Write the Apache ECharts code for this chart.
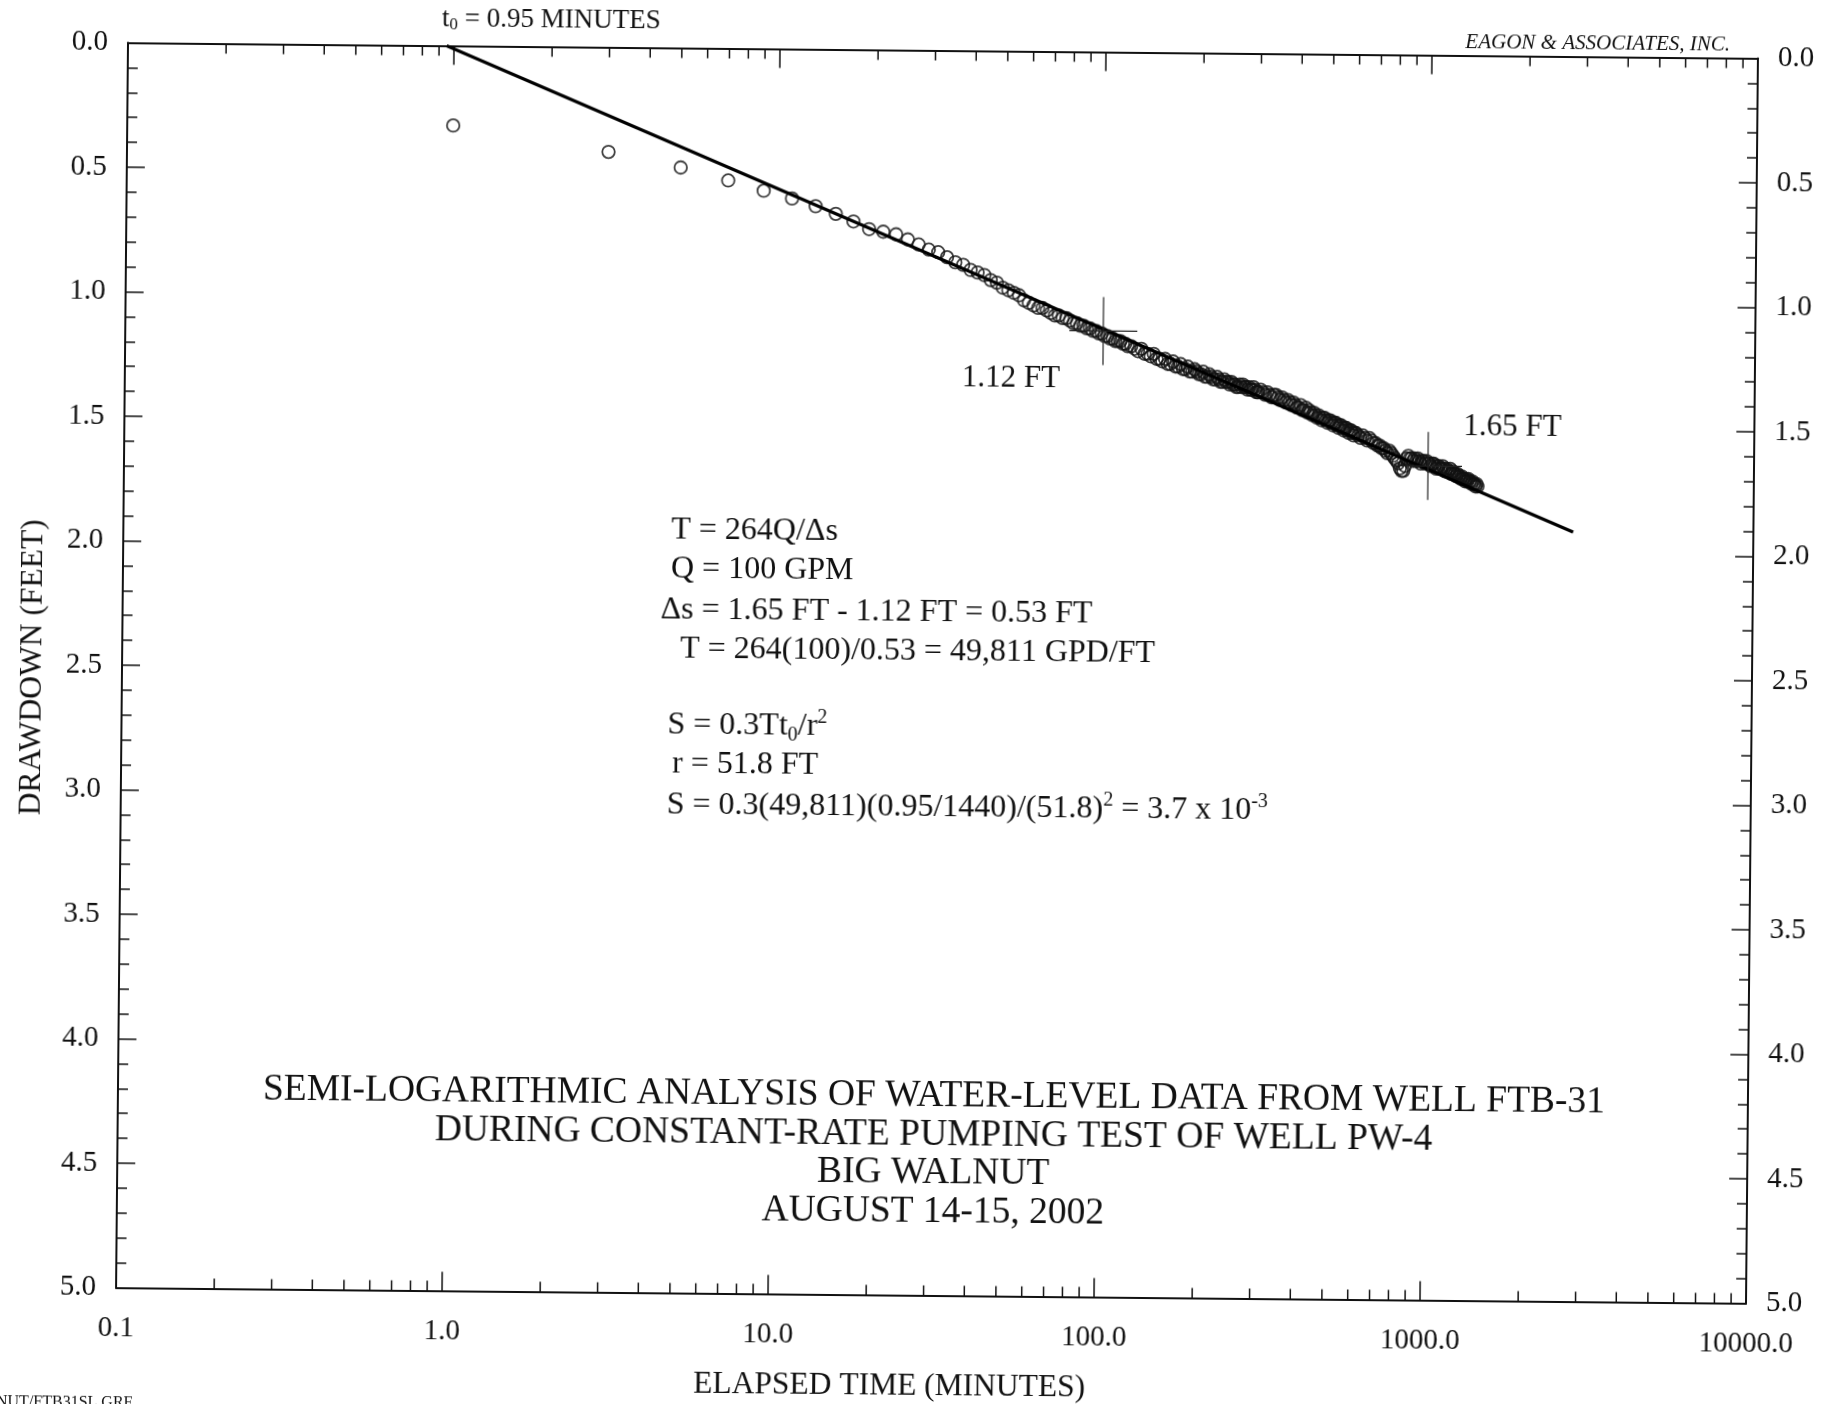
<!DOCTYPE html>
<html>
<head>
<meta charset="utf-8">
<title>Semi-logarithmic analysis, well FTB-31</title>
<script src="https://cdn.jsdelivr.net/npm/echarts@6/dist/echarts.min.js"></script>
<style>
  html, body { margin: 0; padding: 0; background: #fff; overflow: hidden; width: 1835px; height: 1404px; }
  /* the printed sheet sits a little askew on the page */
  #sheet { position: absolute; left: 0; top: 0; width: 1835px; height: 1420px;
           transform: rotate(0.55deg); transform-origin: 936.75px 673px; }
</style>
</head>
<body>
<div id="sheet"></div>
<script>
// Elapsed time since pumping began (minutes) and drawdown (feet) at well FTB-31
const timeA = [1,3,5,7,9,11,13,15,17,19,21,23,25,27,29,31,33,35,37,39,41,43,45,47,49,51,53,55,57,59];
const drawdownA = [0.32,0.42,0.48,0.53,0.57,0.60,0.63,0.66,0.69,0.72,0.73,0.74,0.76,0.78,0.80,0.81,0.83,0.85,0.86,0.88,0.89,0.90,0.92,0.93,0.95,0.96,0.97,0.98,1.00,1.01];

const timeB = [61,63,65,67,69,71,73,75,77,79,81,83,85,87,89,91,93,95,97,99,101,103,105,107,109,111,113,115,117,119];
const drawdownB = [1.02,1.03,1.03,1.04,1.05,1.06,1.06,1.07,1.07,1.08,1.09,1.09,1.10,1.10,1.11,1.11,1.12,1.12,1.13,1.13,1.14,1.14,1.15,1.15,1.16,1.16,1.16,1.17,1.17,1.18];

const timeC = [122,125,128,131,134,137,140,143,146,149,152,155,158,161,164,167,170,173,176,179,
               182,185,188,191,194,197,200,203,206,209,212,215,218,221,224,227,230,233,236,239,
               242,245,248,251,254,257,260,263,266,269,272,275,278,281,284,287,290,293,296,299];
const drawdownC = [1.18,1.19,1.20,1.19,1.21,1.21,1.22,1.21,1.23,1.23,1.24,1.23,1.25,1.25,1.24,1.26,1.26,1.25,1.27,1.27,
                   1.26,1.28,1.28,1.27,1.28,1.29,1.29,1.28,1.30,1.30,1.29,1.30,1.31,1.31,1.30,1.31,1.32,1.32,1.31,1.32,
                   1.32,1.33,1.32,1.33,1.33,1.34,1.34,1.33,1.34,1.33,1.34,1.34,1.35,1.34,1.35,1.35,1.34,1.35,1.36,1.36];

const timeD = [300,305,310,315,320,325,330,335,340,345,350,355,360,365,370,375,380,385,390,395,
               400,405,410,415,420,425,430,435,440,445,450,455,460,465,470,475,480,485,490,495,
               500,505,510,515,520,525,530,535,540,545,550,555,560,565,570,575,580,585,590,595,600];
const drawdownD = [1.36,1.35,1.36,1.37,1.36,1.37,1.38,1.37,1.37,1.38,1.39,1.38,1.39,1.40,1.39,1.40,1.41,1.40,1.41,1.42,
                   1.42,1.41,1.43,1.43,1.42,1.44,1.43,1.44,1.45,1.44,1.45,1.46,1.45,1.46,1.47,1.46,1.46,1.47,1.48,1.47,
                   1.47,1.48,1.49,1.48,1.48,1.49,1.50,1.49,1.49,1.50,1.51,1.50,1.50,1.51,1.52,1.51,1.51,1.52,1.53,1.52,1.52];

const timeE = [610,620,630,640,650,660,670,680,690,700,710,720,730,740,750,760,770,780,790,800,
               810,820,830,840,850,860,870,880,890,900,910,920,930,940,950,960,970,980,990,1000,
               1010,1020,1030,1040,1050,1060,1070,1080,1090,1100,1110,1120,1130,1140,1150,1160,1170,1180,1190,1200,
               1210,1220,1230,1240,1250,1260,1270,1280,1290,1300,1310,1320,1330,1340,1350,1360,1370,1380,1390,1400,
               1410,1420];
const drawdownE = [1.53,1.54,1.53,1.54,1.55,1.54,1.55,1.56,1.56,1.57,1.57,1.58,1.58,1.59,1.60,1.59,1.60,1.61,1.62,1.63,
                   1.64,1.66,1.67,1.67,1.65,1.62,1.61,1.62,1.62,1.63,1.62,1.63,1.62,1.63,1.64,1.63,1.63,1.64,1.63,1.64,
                   1.64,1.65,1.64,1.64,1.65,1.66,1.65,1.65,1.66,1.66,1.65,1.66,1.67,1.66,1.67,1.67,1.66,1.68,1.67,1.68,
                   1.68,1.69,1.68,1.69,1.69,1.70,1.69,1.70,1.70,1.71,1.70,1.71,1.70,1.71,1.71,1.72,1.71,1.72,1.72,1.73,
                   1.72,1.73];

// Straight-line fit: starts at t0 (zero drawdown) and runs to its far end
const fitLine = [[0.95, 0.00], [2800, 1.91]];

// Drawdown picks one log cycle apart
const picks = [[100, 1.12], [1000, 1.65]];

// Axis tick values
const xTickLabels = ['0.1', '1.0', '10.0', '100.0', '1000.0', '10000.0'];
const xMinorTicks = [0.2,0.3,0.4,0.5,0.6,0.7,0.8,0.9, 2,3,4,5,6,7,8,9, 20,30,40,50,60,70,80,90,
                     200,300,400,500,600,700,800,900, 2000,3000,4000,5000,6000,7000,8000,9000];
const yTicks = [0.0, 0.5, 1.0, 1.5, 2.0, 2.5, 3.0, 3.5, 4.0, 4.5, 5.0];

const observed = [];
[[timeA, drawdownA], [timeB, drawdownB], [timeC, drawdownC], [timeD, drawdownD], [timeE, drawdownE]]
  .forEach(([t, s]) => t.forEach((v, i) => observed.push([v, s[i]])));

const SERIF = "'Liberation Serif', 'Times New Roman', Times, serif";
const INK = '#111';

const chart = echarts.init(document.getElementById('sheet'), null, { renderer: 'canvas', width: 1835, height: 1420 });

function xLabel(v) {
  const lg = Math.round(Math.log10(v)) + 1;
  return xTickLabels[lg] !== undefined ? xTickLabels[lg] : '';
}
function yLabel(v) {
  const k = Math.round(v * 2);
  return yTicks[k] !== undefined ? yTicks[k].toFixed(1) : '';
}

const xAxisCommon = {
  type: 'log', logBase: 10, min: 0.1, max: 10000,
  axisLine: { onZero: false, lineStyle: { color: INK, width: 2 } },
  axisTick: { inside: true, length: 19, lineStyle: { color: INK, width: 1.5 } },
  splitLine: { show: false },
  minorTick: { show: false }
};
const yAxisCommon = {
  type: 'value', inverse: true, min: 0, max: 5, interval: 0.5,
  axisLine: { onZero: false, lineStyle: { color: INK, width: 2 } },
  axisTick: { inside: true, length: 18, lineStyle: { color: INK, width: 1.5 } },
  minorTick: { show: true, splitNumber: 5, length: 10, lineStyle: { color: INK, width: 1.5 } },
  splitLine: { show: false },
  minorSplitLine: { show: false },
  axisLabel: { margin: 20, formatter: yLabel, fontFamily: SERIF, fontSize: 29, color: INK }
};

const calloutOffsets = [[-92, 48], [84, -39]];

chart.setOption({
  animation: false,
  backgroundColor: '#fff',
  grid: { left: 122, top: 50.5, width: 1630, height: 1245, containLabel: false },
  xAxis: [
    Object.assign({}, xAxisCommon, {
      position: 'bottom',
      axisLabel: { margin: 26, formatter: xLabel, fontFamily: SERIF, fontSize: 29, color: INK }
    }),
    Object.assign({}, xAxisCommon, { position: 'top', axisLabel: { show: false } })
  ],
  yAxis: [
    Object.assign({}, yAxisCommon, { position: 'left' }),
    Object.assign({}, yAxisCommon, { position: 'right' })
  ],
  series: [
    {
      // minor log ticks (2..9 in each cycle) on the bottom and top frame
      type: 'custom', xAxisIndex: 0, yAxisIndex: 0, silent: true, clip: false, z: 3,
      data: xMinorTicks.map(v => [v, 0]),
      renderItem(params, api) {
        const x = api.coord([api.value(0), 0])[0];
        const cs = params.coordSys;
        const st = { stroke: INK, lineWidth: 1.5 };
        return { type: 'group', children: [
          { type: 'line', shape: { x1: x, y1: cs.y + cs.height, x2: x, y2: cs.y + cs.height - 10 }, style: st },
          { type: 'line', shape: { x1: x, y1: cs.y, x2: x, y2: cs.y + 10 }, style: st }
        ] };
      }
    },
    {
      name: 'Observed drawdown',
      type: 'scatter', xAxisIndex: 0, yAxisIndex: 0, z: 4,
      symbol: 'circle', symbolSize: 12.5,
      itemStyle: { color: 'rgba(0,0,0,0)', borderColor: '#111', borderWidth: 1.8 },
      data: observed
    },
    {
      name: 'Straight-line fit',
      type: 'line', xAxisIndex: 0, yAxisIndex: 0, z: 5,
      showSymbol: false, symbol: 'none',
      lineStyle: { color: '#000', width: 3.2 },
      data: fitLine
    },
    {
      // crosshairs marking the drawdown read one log cycle apart
      type: 'custom', xAxisIndex: 0, yAxisIndex: 0, silent: true, z: 6,
      data: picks,
      renderItem(params, api) {
        const p = api.coord([api.value(0), api.value(1)]);
        const a = 34;
        const off = calloutOffsets[params.dataIndex];
        const st = { stroke: '#222', lineWidth: 1.2 };
        return { type: 'group', children: [
          { type: 'line', shape: { x1: p[0] - a, y1: p[1], x2: p[0] + a, y2: p[1] }, style: st },
          { type: 'line', shape: { x1: p[0], y1: p[1] - a, x2: p[0], y2: p[1] + a }, style: st },
          { type: 'text', x: p[0] + off[0], y: p[1] + off[1],
            style: { text: api.value(1).toFixed(2) + ' FT', font: '31px ' + SERIF, fill: INK,
                     align: 'center', verticalAlign: 'middle', textAlign: 'center', textVerticalAlign: 'middle' } }
        ] };
      }
    }
  ]
});

// ---- text placed on the sheet ----
const t0 = fitLine[0][0];
const t0px = chart.convertToPixel({ xAxisIndex: 0, yAxisIndex: 0 }, fitLine[0]);

const body = { fontFamily: SERIF, fontSize: 32, lineHeight: 38, fill: INK };
const sup = { fontFamily: SERIF, fontSize: 20, lineHeight: 20, verticalAlign: 'top', fill: INK };
const sub = { fontFamily: SERIF, fontSize: 20, lineHeight: 20, verticalAlign: 'bottom', fill: INK };

function rich(x, y, str, richStyles, align) {
  return {
    type: 'text', x, y, silent: true,
    style: { text: str, rich: richStyles, fill: INK, align: align || 'left', verticalAlign: 'middle',
             textAlign: align || 'left', textVerticalAlign: 'middle' }
  };
}
function plain(x, y, str, font, align, vAlign, extra) {
  return Object.assign({
    type: 'text', x, y, silent: true,
    style: { text: str, font: font, fill: INK, align: align, verticalAlign: vAlign,
             textAlign: align, textVerticalAlign: vAlign }
  }, extra || {});
}

const R = { n: body, sup: sup, sub: sub };
const calc = [
  rich(670, 533, '{n|T = 264Q/\u0394s}', R),
  rich(670, 572, '{n|Q = 100 GPM}', R),
  rich(660, 613, '{n|\u0394s = 1.65 FT - 1.12 FT = 0.53 FT}', R),
  rich(680, 652, '{n|T = 264(100)/0.53 = 49,811 GPD/FT}', R),
  rich(668, 728, '{n|S = 0.3Tt}{sub|0}{n|/r}{sup|2}', R),
  rich(673, 767, '{n|r = 51.8 FT}', R),
  rich(668, 808, '{n|S = 0.3(49,811)(0.95/1440)/(51.8)}{sup|2}{n| = 3.7 x 10}{sup|-3}', R)
];

const t0Rich = {
  n: { fontFamily: SERIF, fontSize: 27, lineHeight: 30, fill: INK },
  sub: { fontFamily: SERIF, fontSize: 17, lineHeight: 17, verticalAlign: 'bottom', fill: INK }
};

const titleBlock = plain(938, 1154,
  'SEMI-LOGARITHMIC ANALYSIS OF WATER-LEVEL DATA FROM WELL FTB-31\n' +
  'DURING CONSTANT-RATE PUMPING TEST OF WELL PW-4\n' +
  'BIG WALNUT\n' +
  'AUGUST 14-15, 2002',
  '37.5px ' + SERIF, 'center', 'middle');
titleBlock.style.lineHeight = 38.5;

chart.setOption({
  graphic: [
    rich(t0px[0] - 5, t0px[1] - 27, '{n|t}{sub|0}{n| = ' + t0.toFixed(2) + ' MINUTES}', t0Rich),
    plain(1724, 37, 'EAGON & ASSOCIATES, INC.', 'italic 21px ' + SERIF, 'right', 'middle'),
    ...calc,
    titleBlock,
    plain(896, 1387, 'ELAPSED TIME (MINUTES)', '31.5px ' + SERIF, 'center', 'middle'),
    plain(33, 676, 'DRAWDOWN (FEET)', '31.5px ' + SERIF, 'center', 'middle', { rotation: Math.PI / 2 }),
    plain(3, 1403, 'NUT/FTB31SL.GRF', '16px ' + SERIF, 'left', 'top')
  ]
});
</script>
</body>
</html>
